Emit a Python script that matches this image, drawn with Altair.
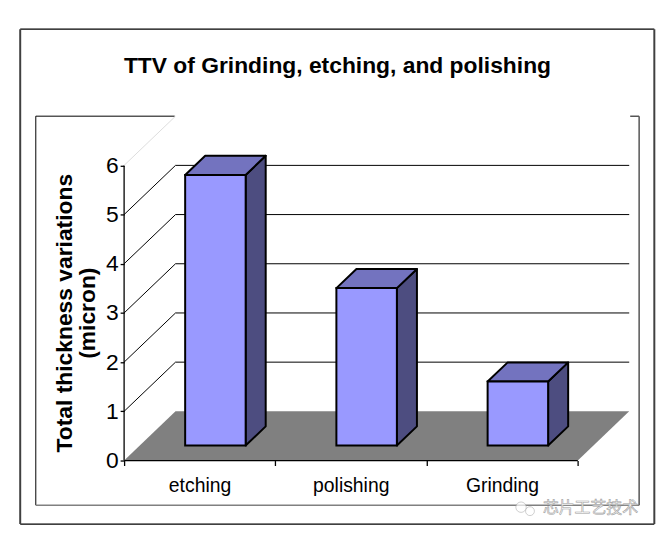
import altair as alt
import pandas as pd

# ---------------- data ----------------
categories = ["etching", "polishing", "Grinding"]
ttv_values = [5.5, 3.2, 1.3]
y_ticks = [0, 1, 2, 3, 4, 5, 6]
title_text = "TTV of Grinding, etching, and polishing"
y_title = ["Total thickness variations", "(micron)"]
watermark_text = "芯片工艺技术"

# ---------------- 3-D geometry (data units) ----------------
n = len(categories)
DEPTH_X = 0.34      # horizontal shift of the full depth, x units
DEPTH_Y = 1.0       # vertical shift of the full depth, y units
BAR_W = 0.40
Z0, Z1 = 0.305, 0.695   # bar depth range (fraction of full depth)

W, H = 509, 347
xs = alt.Scale(domain=[0, n + DEPTH_X], nice=False, zero=False)
ys = alt.Scale(domain=[0, max(y_ticks) + DEPTH_Y], nice=False, zero=False)

FONT = "Liberation Sans"

# axes (carried by the y-axis domain line layer)
label_expr = "''"
for i in reversed(range(n)):
    label_expr = f"datum.value == {i} ? '{categories[i]}' : ({label_expr})"

yaxis_df = pd.DataFrame({"ax": [0], "ay": [0], "ay2": [max(y_ticks)]})
yaxis_line = alt.Chart(yaxis_df).mark_rule(color="black", strokeWidth=1.3).encode(
    x=alt.X("ax:Q", scale=xs, axis=alt.Axis(
        values=list(range(n + 1)), title=None, grid=False, domain=False,
        ticks=True, tickSize=5, tickColor="black", tickWidth=1.3,
        labelExpr=label_expr, labelOffset=76, labelPadding=11,
        labelFont=FONT, labelFontSize=19.5, labelColor="black",
        labelFlush=False, labelOverlap=False, orient="bottom")),
    y=alt.Y("ay:Q", scale=ys, axis=alt.Axis(
        values=y_ticks, grid=False, domain=False, orient="left",
        ticks=True, tickSize=4, tickColor="black", tickWidth=1.3,
        labelFont=FONT, labelFontSize=23, labelColor="black", labelPadding=2,
        title=y_title, titleFont=FONT, titleFontSize=23, titleFontWeight="bold",
        titleColor="black", titleAngle=270, titleAlign="center", titleBaseline="middle",
        titleLineHeight=23, titleX=-60, titleY=198)),
    y2="ay2:Q",
)

# floor
floor_df = pd.DataFrame({"fy": [0, DEPTH_Y], "fx": [0, DEPTH_X], "fx2": [n, n + DEPTH_X]})
floor = alt.Chart(floor_df).mark_area(orient="horizontal", color="#808080").encode(
    y=alt.Y("fy:Q", scale=ys),
    x=alt.X("fx:Q", scale=xs),
    x2="fx2:Q",
)

# back-wall gridlines
grid_vals = y_ticks[1:-1]
grid_df = pd.DataFrame({"gy": [v + DEPTH_Y for v in grid_vals],
                        "gx": [DEPTH_X] * len(grid_vals),
                        "gx2": [n + DEPTH_X] * len(grid_vals)})
back_grid = alt.Chart(grid_df).mark_rule(color="black", strokeWidth=1).encode(
    y=alt.Y("gy:Q", scale=ys),
    x=alt.X("gx:Q", scale=xs),
    x2="gx2:Q",
)

# side-wall diagonal gridlines
diag_vals = y_ticks[1:-1]
diag_df = pd.DataFrame({"dy": diag_vals, "dy2": [v + DEPTH_Y for v in diag_vals],
                        "dx": [0] * len(diag_vals), "dx2": [DEPTH_X] * len(diag_vals)})
diag = alt.Chart(diag_df).mark_rule(color="black", strokeWidth=1).encode(
    x=alt.X("dx:Q", scale=xs), x2="dx2:Q",
    y=alt.Y("dy:Q", scale=ys), y2="dy2:Q",
)
top_df = pd.DataFrame({"dy": [max(y_ticks)], "dy2": [max(y_ticks) + DEPTH_Y],
                       "dx": [0], "dx2": [DEPTH_X]})
wall_top = alt.Chart(top_df).mark_rule(color="#dddddd", strokeWidth=1).encode(
    x=alt.X("dx:Q", scale=xs), x2="dx2:Q",
    y=alt.Y("dy:Q", scale=ys), y2="dy2:Q",
)

xaxis_df = pd.DataFrame({"bx": [0], "bx2": [n], "by": [0]})
xaxis_line = alt.Chart(xaxis_df).mark_rule(color="black", strokeWidth=1.3).encode(
    x=alt.X("bx:Q", scale=xs), x2="bx2:Q",
    y=alt.Y("by:Q", scale=ys),
)

# bars
front_rows, top_rows, side_rows = [], [], []
sx = (Z1 - Z0) * DEPTH_X
sy = (Z1 - Z0) * DEPTH_Y
for i, (c, v) in enumerate(zip(categories, ttv_values)):
    L = i + 0.5 - BAR_W / 2 + Z0 * DEPTH_X
    R = L + BAR_W
    b0 = Z0 * DEPTH_Y
    front_rows.append({"cat": c, "x": L, "x2": R, "y": b0, "y2": v + b0})
    top_rows.append({"cat": c, "y": v + b0, "x": L, "x2": R})
    top_rows.append({"cat": c, "y": v + b0 + sy, "x": L + sx, "x2": R + sx})
    side_rows.append({"cat": c, "x": R, "y": b0, "y2": v + b0})
    side_rows.append({"cat": c, "x": R + sx, "y": b0 + sy, "y2": v + b0 + sy})

side = alt.Chart(pd.DataFrame(side_rows)).mark_area(
    orient="vertical", color="#4D4D80", stroke="black", strokeWidth=2, strokeJoin="round").encode(
    x=alt.X("x:Q", scale=xs),
    y=alt.Y("y:Q", scale=ys), y2="y2:Q",
    detail="cat:N",
)
top = alt.Chart(pd.DataFrame(top_rows)).mark_area(
    orient="horizontal", color="#7373BF", stroke="black", strokeWidth=2, strokeJoin="round").encode(
    y=alt.Y("y:Q", scale=ys),
    x=alt.X("x:Q", scale=xs), x2="x2:Q",
    detail="cat:N",
)
front = alt.Chart(pd.DataFrame(front_rows)).mark_rect(
    color="#9999FF", stroke="black", strokeWidth=2).encode(
    x=alt.X("x:Q", scale=xs), x2="x2:Q",
    y=alt.Y("y:Q", scale=ys), y2="y2:Q",
)

# frame decorations (pixel positions relative to plot origin)
one = pd.DataFrame({"k": [0]})


def seg(x1, y1, x2, y2, color="black", width=1.0):
    return alt.Chart(one).mark_rule(color=color, strokeWidth=width).encode(
        x=alt.value(x1), y=alt.value(y1), x2=alt.value(x2), y2=alt.value(y2))


frame = [
    # outer chart border
    seg(-104.7, -87.7, 534.3, -87.7, "black", 1.2),
    seg(-104.7, 411, 534.3, 411, "black", 1.2),
    seg(-104.7, -87.7, -104.7, 411, "#404040", 2),
    seg(534.3, -87.7, 534.3, 411, "#404040", 2),
    # plot-area border
    seg(-89, 0, 51, 0, "black", 1),
    seg(510, 0, 519, 0, "black", 1),
    seg(-89, 0, -89, 392, "black", 1),
    seg(519, 0, 519, 392, "#555555", 1.5),
    seg(-89, 392, 519, 392, "#808080", 1.5),
]

wm_text = alt.Chart(one).mark_text(
    text=watermark_text, font="Noto Sans CJK SC", fontSize=16, align="left",
    baseline="middle", fill="white", stroke="#a0a0a0", strokeWidth=0.6).encode(
    x=alt.value(422), y=alt.value(395))
wm_icon = alt.Chart(one).mark_point(
    shape="circle", filled=True, fill="white", stroke="#aaaaaa", strokeWidth=0.8).encode(
    x=alt.value(400), y=alt.value(394), size=alt.value(110))
wm_icon2 = alt.Chart(one).mark_point(
    shape="circle", filled=True, fill="white", stroke="#aaaaaa", strokeWidth=0.8).encode(
    x=alt.value(409), y=alt.value(398), size=alt.value(80))

chart = alt.layer(
    yaxis_line, *frame, floor, back_grid, wall_top, diag, xaxis_line,
    side, top, front, wm_icon, wm_icon2, wm_text,
).properties(
    width=W, height=H,
    title=alt.TitleParams(
        text=title_text, font=FONT, fontSize=23, fontWeight="bold",
        color="black", anchor="middle", frame="group", dx=-39.5, offset=-68,
        baseline="alphabetic"),
    autosize=alt.AutoSizeParams(type="none"),
    padding={"left": 117, "top": 107, "right": 28, "bottom": 70},
    background="white",
).configure_view(strokeWidth=0)

chart.save("out.html", embed_options={"renderer": "svg", "actions": False})
